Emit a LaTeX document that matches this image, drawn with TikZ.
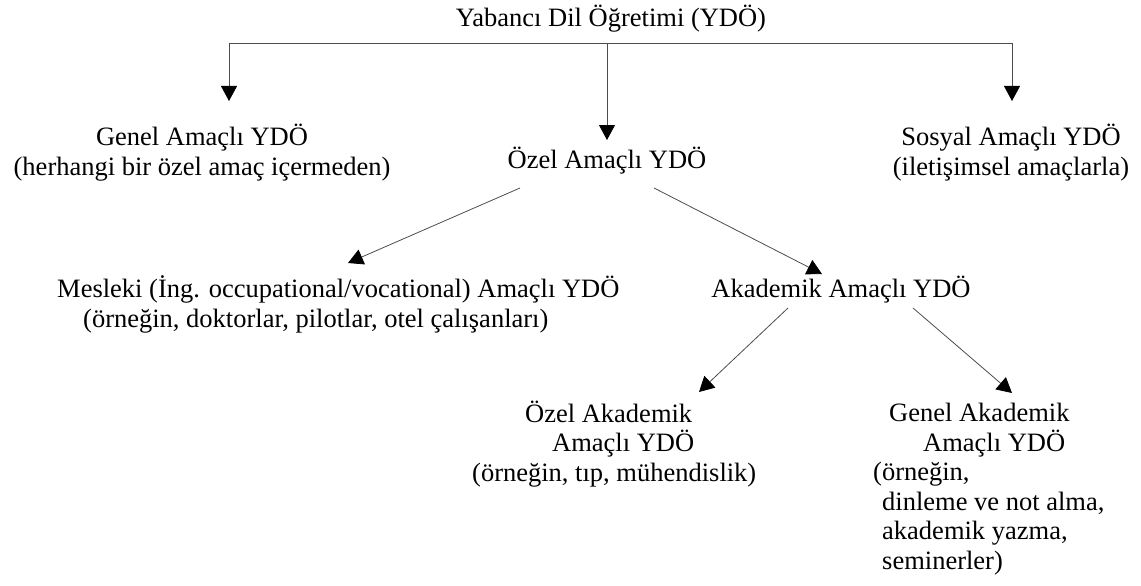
\documentclass[tikz,border=0pt]{standalone}
\usepackage{fontspec}
\setmainfont{Liberation Serif}
\usetikzlibrary{arrows.meta}

\tikzset{
    lbl/.style={inner sep=0pt, font=\fontsize{26.5}{29.5}\selectfont},
    arr/.style={draw=black!70, line width=0.8pt, -{Triangle[length=15pt,width=16pt,color=black]}}
}

\begin{document}
\begin{tikzpicture}[x=1pt, y=-1pt]
    \useasboundingbox (0,0) rectangle (1141,586);
    % top level (base = last line)
    \node[lbl, anchor=base] at (611,27) (title) {Yabancı Dil Öğretimi (YDÖ)};
    \node[lbl, anchor=base, align=center] at (202,175) (genel) {Genel Amaçlı YDÖ\\(herhangi bir özel amaç içermeden)};
    \node[lbl, anchor=base] at (607,168) (ozel) {Özel Amaçlı YDÖ};
    \node[lbl, anchor=base, align=center] at (1011,175) (sosyal) {Sosyal Amaçlı YDÖ\\(iletişimsel amaçlarla)};
    % second level
    \node[lbl, anchor=base west, align=left] at (57,327) (mesleki) {Mesleki (İng. occupational/vocational) Amaçlı YDÖ\\\hspace*{26pt}(örneğin, doktorlar, pilotlar, otel çalışanları)};
    \node[lbl, anchor=base] at (841,297) (akademik) {Akademik Amaçlı YDÖ};
    % third level
    \node[lbl, anchor=base west, align=left] at (472,481) (ozelak) {\hspace*{53pt}Özel Akademik\\\hspace*{80pt}Amaçlı YDÖ\\(örneğin, tıp, mühendislik)};
    \node[lbl, anchor=base west, align=left] at (873,569) (genelak) {\hspace*{16pt}Genel Akademik\\\hspace*{50pt}Amaçlı YDÖ\\(örneğin,\\\hspace*{9pt}dinleme ve not alma,\\\hspace*{9pt}akademik yazma,\\\hspace*{9pt}seminerler)};

    \coordinate (jl) at (229,43);
    \coordinate (jm) at (607,43);
    \coordinate (jr) at (1012,43);
    \draw[draw=black!70, line width=0.8pt] (jl) -- (jr);
    \draw[arr] (jl) -- ([yshift=74pt]jl |- genel.base);
    \draw[arr] (jm) -- ([yshift=28pt]ozel.base);
    \draw[arr] (jr) -- ([yshift=74pt]jr |- sosyal.base);

    \draw[arr] ([shift={(-87,20)}]ozel.base) -- ([shift={(291,-64)}]mesleki.base west);
    \draw[arr] ([shift={(47,20)}]ozel.base) -- ([shift={(-19,-23)}]akademik.base);
    \draw[arr] ([shift={(-53,11)}]akademik.base) -- ([shift={(227,-89)}]ozelak.base west);
    \draw[arr] ([shift={(72,11)}]akademik.base) -- ([shift={(139,-176)}]genelak.base west);
\end{tikzpicture}
\end{document}
